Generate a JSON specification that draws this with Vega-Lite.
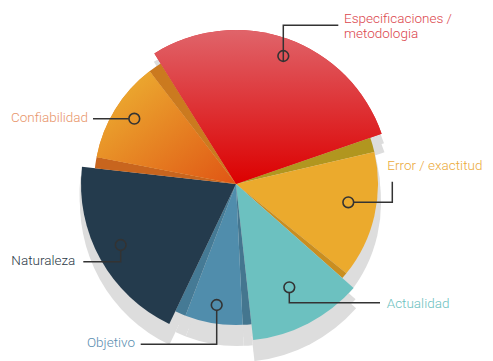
{
  "$schema": "https://vega.github.io/schema/vega-lite/v6.json",
  "autosize": {"type": "none"},
  "width": 472,
  "height": 354,
  "padding": {"left": 0, "top": 7, "right": 21, "bottom": 0},
  "background": "#ffffff",
  "config": {"view": {"stroke": null}},
  "datasets": {
    "porciones": [
      {"segmento": "Especificaciones / metodologia", "inicio": -32, "fin": 71, "radio": 154},
      {"segmento": "Error / exactitud · borde 1", "inicio": 71, "fin": 77, "radio": 142},
      {"segmento": "Error / exactitud", "inicio": 77, "fin": 129, "radio": 142},
      {"segmento": "Error / exactitud · borde 2", "inicio": 129, "fin": 131.5, "radio": 142},
      {"segmento": "Actualidad", "inicio": 131.5, "fin": 173.7, "radio": 157},
      {"segmento": "Objetivo · borde 1", "inicio": 173.7, "fin": 177.3, "radio": 141},
      {"segmento": "Objetivo", "inicio": 177.3, "fin": 201, "radio": 141},
      {"segmento": "Objetivo · borde 2", "inicio": 201, "fin": 205.5, "radio": 141},
      {"segmento": "Naturaleza", "inicio": 205.5, "fin": 276.4, "radio": 155},
      {"segmento": "Confiabilidad · borde 1", "inicio": 276.4, "fin": 281, "radio": 142},
      {"segmento": "Confiabilidad", "inicio": 281, "fin": 322.5, "radio": 142},
      {"segmento": "Confiabilidad · borde 2", "inicio": 322.5, "fin": 328, "radio": 142}
    ],
    "guias": [
      {"etiqueta": "Especificaciones / metodologia", "orden": 1, "x": 47.3, "y": 122.5},
      {"etiqueta": "Especificaciones / metodologia", "orden": 2, "x": 47.3, "y": 158.7},
      {"etiqueta": "Especificaciones / metodologia", "orden": 3, "x": 102.3, "y": 158.7},
      {"etiqueta": "Confiabilidad", "orden": 1, "x": -107.2, "y": 65.3},
      {"etiqueta": "Confiabilidad", "orden": 2, "x": -143, "y": 65.3},
      {"etiqueta": "Error / exactitud", "orden": 1, "x": 117.8, "y": -18.3},
      {"etiqueta": "Error / exactitud", "orden": 2, "x": 156.3, "y": -18.3},
      {"etiqueta": "Error / exactitud", "orden": 3, "x": 156.3, "y": 2.3},
      {"etiqueta": "Naturaleza", "orden": 1, "x": -115.3, "y": -66.5},
      {"etiqueta": "Naturaleza", "orden": 2, "x": -115.3, "y": -77.7},
      {"etiqueta": "Naturaleza", "orden": 3, "x": -152.7, "y": -77.7},
      {"etiqueta": "Actualidad", "orden": 1, "x": 53.3, "y": -108.8},
      {"etiqueta": "Actualidad", "orden": 2, "x": 53.3, "y": -118.7},
      {"etiqueta": "Actualidad", "orden": 3, "x": 144, "y": -118.7},
      {"etiqueta": "Objetivo", "orden": 1, "x": -19.3, "y": -126.5},
      {"etiqueta": "Objetivo", "orden": 2, "x": -19.3, "y": -160.3},
      {"etiqueta": "Objetivo", "orden": 3, "x": -95.3, "y": -160.3}
    ],
    "marcas": [
      {"etiqueta": "Especificaciones / metodologia", "x": 47.3, "y": 128},
      {"etiqueta": "Confiabilidad", "x": -101.7, "y": 65.3},
      {"etiqueta": "Error / exactitud", "x": 112.3, "y": -18.3},
      {"etiqueta": "Naturaleza", "x": -115.3, "y": -61},
      {"etiqueta": "Actualidad", "x": 53.3, "y": -103.3},
      {"etiqueta": "Objetivo", "x": -19.3, "y": -121}
    ],
    "etiquetas": [
      {"etiqueta": "Especificaciones / metodologia", "texto": "Especificaciones /\nmetodologia", "lado": "derecha", "x": 108, "y": 160.7},
      {"etiqueta": "Confiabilidad", "texto": "Confiabilidad", "lado": "izquierda", "x": -148, "y": 62.3},
      {"etiqueta": "Error / exactitud", "texto": "Error / exactitud", "lado": "derecha", "x": 151.3, "y": 14},
      {"etiqueta": "Naturaleza", "texto": "Naturaleza", "lado": "izquierda", "x": -160.7, "y": -81},
      {"etiqueta": "Actualidad", "texto": "Actualidad", "lado": "derecha", "x": 150.7, "y": -123.7},
      {"etiqueta": "Objetivo", "texto": "Objetivo", "lado": "izquierda", "x": -101, "y": -163}
    ]
  },
  "resolve": {"scale": {"color": "independent"}},
  "layer": [
    {
      "data": {"name": "porciones"},
      "mark": {"type": "arc", "fill": "#DDDDDD", "radiusOffset": 2, "xOffset": 0.5, "yOffset": 10},
      "encoding": {
        "theta": {"field": "inicio", "type": "quantitative", "stack": null, "scale": {"domain": [0, 360], "range": [0, 6.283185307]}},
        "theta2": {"field": "fin"},
        "radius": {"field": "radio", "type": "quantitative", "scale": {"type": "linear", "domain": [0, 160], "range": [0, 160]}}
      }
    },
    {
      "data": {"name": "porciones"},
      "mark": {"type": "arc", "fill": "#DDDDDD", "radiusOffset": 2, "xOffset": 1, "yOffset": 19},
      "encoding": {
        "theta": {"field": "inicio", "type": "quantitative", "stack": null},
        "theta2": {"field": "fin"},
        "radius": {"field": "radio", "type": "quantitative"}
      }
    },
    {
      "data": {"name": "porciones"},
      "mark": {"type": "arc", "strokeWidth": 0.6},
      "encoding": {
        "theta": {"field": "inicio", "type": "quantitative", "stack": null},
        "theta2": {"field": "fin"},
        "radius": {"field": "radio", "type": "quantitative"},
        "color": {
          "field": "segmento", "type": "nominal", "legend": null,
          "scale": {
            "domain": ["Especificaciones / metodologia", "Error / exactitud · borde 1", "Error / exactitud", "Error / exactitud · borde 2", "Actualidad", "Objetivo · borde 1", "Objetivo", "Objetivo · borde 2", "Naturaleza", "Confiabilidad · borde 1", "Confiabilidad", "Confiabilidad · borde 2"],
            "range": ["#DE2A2E", "#B1961F", "#EBAA2D", "#C98E20", "#6CC1C0", "#44768F", "#508DAC", "#457A95", "#243B4D", "#C8651E", "#E68A25", "#CB7A1F"]
          }
        }
      }
    },
    {
      "data": {"name": "porciones"},
      "transform": [{"filter": "datum.segmento === 'Especificaciones / metodologia'"}],
      "mark": {
        "type": "arc",
        "fill": {"gradient": "linear", "x1": 0, "y1": 0, "x2": 0, "y2": 1, "stops": [{"offset": 0, "color": "#E0646A"}, {"offset": 1, "color": "#DC0000"}]}
      },
      "encoding": {
        "theta": {"field": "inicio", "type": "quantitative", "stack": null},
        "theta2": {"field": "fin"},
        "radius": {"field": "radio", "type": "quantitative"}
      }
    },
    {
      "data": {"name": "porciones"},
      "transform": [{"filter": "datum.segmento === 'Confiabilidad'"}],
      "mark": {
        "type": "arc",
        "fill": {"gradient": "linear", "x1": 0.1, "y1": 0.1, "x2": 1, "y2": 1, "stops": [{"offset": 0, "color": "#ECAE31"}, {"offset": 1, "color": "#E05514"}]}
      },
      "encoding": {
        "theta": {"field": "inicio", "type": "quantitative", "stack": null},
        "theta2": {"field": "fin"},
        "radius": {"field": "radio", "type": "quantitative"}
      }
    },
    {
      "data": {"name": "guias"},
      "mark": {"type": "line", "stroke": "#333333", "strokeWidth": 1.5, "interpolate": "linear"},
      "encoding": {
        "x": {"field": "x", "type": "quantitative", "axis": null, "scale": {"domain": [-236, 236], "nice": false, "zero": false}},
        "y": {"field": "y", "type": "quantitative", "axis": null, "scale": {"domain": [-177, 177], "nice": false, "zero": false}},
        "detail": {"field": "etiqueta"},
        "order": {"field": "orden", "type": "quantitative"}
      }
    },
    {
      "data": {"name": "marcas"},
      "mark": {"type": "point", "shape": "circle", "filled": false, "size": 115, "stroke": "#333333", "strokeWidth": 1.6, "opacity": 1},
      "encoding": {
        "x": {"field": "x", "type": "quantitative"},
        "y": {"field": "y", "type": "quantitative"}
      }
    },
    {
      "data": {"name": "etiquetas"},
      "transform": [{"filter": "datum.lado === 'derecha'"}],
      "mark": {"type": "text", "align": "left", "baseline": "alphabetic", "font": "Roboto", "fontSize": 13.5, "fontWeight": 300, "lineBreak": "\n", "lineHeight": 15},
      "encoding": {
        "x": {"field": "x", "type": "quantitative"},
        "y": {"field": "y", "type": "quantitative"},
        "text": {"field": "texto"},
        "color": {
          "field": "etiqueta", "type": "nominal", "legend": null,
          "scale": {
            "domain": ["Especificaciones / metodologia", "Error / exactitud", "Actualidad"],
            "range": ["#DB454C", "#EBAA3A", "#6CC1C0"]
          }
        }
      }
    },
    {
      "data": {"name": "etiquetas"},
      "transform": [{"filter": "datum.lado === 'izquierda'"}],
      "mark": {"type": "text", "align": "right", "baseline": "alphabetic", "font": "Roboto", "fontSize": 13.5, "fontWeight": 300},
      "encoding": {
        "x": {"field": "x", "type": "quantitative"},
        "y": {"field": "y", "type": "quantitative"},
        "text": {"field": "texto"},
        "color": {
          "field": "etiqueta", "type": "nominal", "legend": null,
          "scale": {
            "domain": ["Confiabilidad", "Naturaleza", "Objetivo"],
            "range": ["#E8956A", "#2B3947", "#5A8EB0"]
          }
        }
      }
    }
  ]
}
